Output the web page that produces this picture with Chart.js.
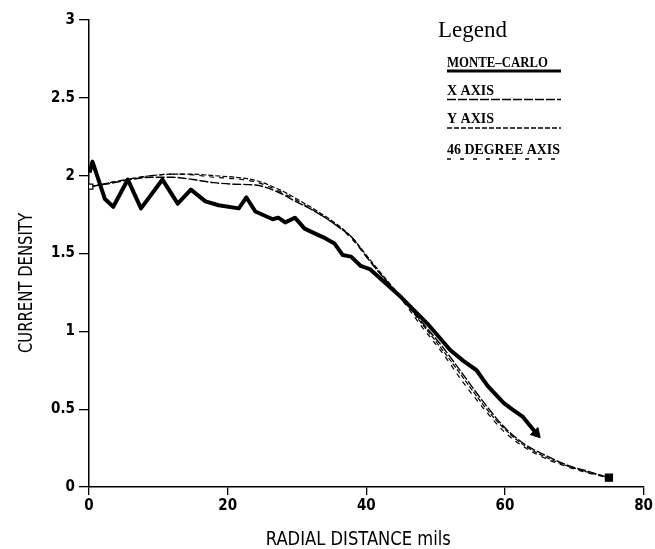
<!DOCTYPE html>
<html>
<head>
<meta charset="utf-8">
<script src="https://cdn.jsdelivr.net/npm/chart.js@4"></script>
<style>
html,body{margin:0;padding:0;background:#fff;}
canvas{display:block;}
</style>
</head>
<body>
<canvas id="c" width="655" height="549"></canvas>
<script>
// ---- data ----
const xTicks = [0, 20, 40, 60, 80];
const yTicks = [0, 0.5, 1, 1.5, 2, 2.5, 3];
const yTickLabels = ["0", "0.5", "1", "1.5", "2", "2.5", "3"];

const seriesNames = ["MONTE\u2013CARLO", "X AXIS", "Y AXIS", "46 DEGREE AXIS"];

const mcX = [0.1, 0.5, 2.3, 3.5, 5.6, 7.5, 10.6, 12.8, 14.7, 16.8, 18.7, 21.6, 22.7, 24.0, 26.5, 27.3, 28.3, 29.7, 31.1, 33.0, 34.0, 35.4, 36.6, 37.8, 39.2, 40.5, 42.5, 45.0, 48.8, 52.1, 54.0, 55.9, 57.5, 59.8, 61.0, 62.6, 64.5];
const mcY = [2.02, 2.09, 1.85, 1.80, 1.975, 1.79, 1.975, 1.82, 1.91, 1.835, 1.81, 1.79, 1.86, 1.77, 1.72, 1.73, 1.70, 1.73, 1.66, 1.62, 1.60, 1.565, 1.49, 1.48, 1.42, 1.40, 1.32, 1.22, 1.05, 0.88, 0.81, 0.75, 0.65, 0.54, 0.50, 0.45, 0.345];

const smoothX = [0.2, 3, 6, 9, 12, 15, 18, 21, 24, 27, 30, 33, 36, 38, 40, 42, 45, 48, 51, 54, 57, 60, 63, 66, 69, 72, 75];
const xAxisY = [1.93, 1.95, 1.975, 1.99, 1.99, 1.975, 1.955, 1.945, 1.94, 1.90, 1.83, 1.76, 1.67, 1.60, 1.48, 1.37, 1.22, 1.06, 0.90, 0.72, 0.54, 0.38, 0.27, 0.20, 0.14, 0.10, 0.06];
const yAxisY = [1.93, 1.955, 1.98, 2.0, 2.01, 2.01, 2.0, 1.99, 1.97, 1.92, 1.85, 1.77, 1.68, 1.60, 1.49, 1.38, 1.22, 1.05, 0.88, 0.70, 0.52, 0.37, 0.26, 0.19, 0.135, 0.095, 0.06];
const degY = [1.93, 1.955, 1.98, 2.0, 2.01, 2.005, 1.99, 1.98, 1.96, 1.91, 1.84, 1.76, 1.67, 1.59, 1.48, 1.37, 1.21, 1.03, 0.86, 0.67, 0.50, 0.35, 0.25, 0.18, 0.13, 0.09, 0.06];

const xTitle = "RADIAL DISTANCE mils";
const yTitle = "CURRENT DENSITY";
const legendTitle = "Legend";

// ---- build ----
const pts = (xs, ys) => xs.map((x, i) => ({x: x, y: ys[i]}));
const narrow = "'Liberation Sans Narrow', 'DejaVu Sans Condensed', 'Liberation Sans', sans-serif";
const serif = "'Liberation Serif', 'DejaVu Serif', serif";

const dashes = [[], [9, 2], [5, 2], [5, 5]];
const widths = [4, 1.4, 1.2, 1.2];

const datasets = [
  {
    label: seriesNames[0],
    data: pts(mcX, mcY),
    borderColor: '#000', backgroundColor: '#000',
    borderWidth: widths[0], borderJoinStyle: 'round',
    tension: 0,
    pointRadius: ctx => ctx.dataIndex === mcX.length - 1 ? 6 : 0,
    pointStyle: 'triangle',
    pointRotation: 138,
    pointBorderWidth: 1
  },
  {
    label: seriesNames[1],
    data: pts(smoothX, xAxisY),
    borderColor: '#000', backgroundColor: '#000',
    borderWidth: widths[1], borderDash: dashes[1],
    cubicInterpolationMode: 'monotone',
    pointRadius: ctx => ctx.dataIndex === smoothX.length - 1 ? 5 : (ctx.dataIndex === 0 ? 3.5 : 0),
    pointStyle: 'rect',
    pointBackgroundColor: ctx => ctx.dataIndex === 0 ? '#fff' : '#000',
    pointBorderWidth: 1.2
  },
  {
    label: seriesNames[2],
    data: pts(smoothX, yAxisY),
    borderColor: '#000',
    borderWidth: widths[2], borderDash: dashes[2],
    cubicInterpolationMode: 'monotone',
    pointRadius: 0
  },
  {
    label: seriesNames[3],
    data: pts(smoothX, degY),
    borderColor: '#000',
    borderWidth: widths[3], borderDash: dashes[3],
    cubicInterpolationMode: 'monotone',
    pointRadius: 0
  }
];

const decor = {
  id: 'decor',
  afterDraw(chart) {
    const c = chart.ctx;
    const area = chart.chartArea;
    c.save();
    c.fillStyle = '#000';
    c.strokeStyle = '#000';
    // axis titles
    c.font = "19px " + narrow;
    c.textAlign = 'center';
    c.textBaseline = 'alphabetic';
    c.fillText(xTitle, (area.left + area.right) / 2 - 8, 545, 185);
    c.save();
    c.translate(32, 283);
    c.rotate(-Math.PI / 2);
    c.fillText(yTitle, 0, 0, 140);
    c.restore();

    // legend
    c.textAlign = 'left';
    c.font = "23px " + serif;
    c.fillText(legendTitle, 438, 37, 72);
    const baselines = [67, 95, 123, 154];
    const lineYs = [71, 99.5, 128, 159];
    const textW = [101, 48, 48, 113];
    c.font = "bold 14px " + serif;
    for (let i = 0; i < seriesNames.length; i++) {
      c.fillText(seriesNames[i], 447, baselines[i], textW[i]);
      c.beginPath();
      c.lineWidth = i === 0 ? 3 : 1.3;
      c.setLineDash(i === 3 ? [4, 9] : dashes[i]);
      c.moveTo(447, lineYs[i]);
      c.lineTo(561, lineYs[i]);
      c.stroke();
    }
    c.restore();
  }
};

new Chart(document.getElementById('c'), {
  type: 'scatter',
  data: { datasets: datasets.map(d => Object.assign({showLine: true, fill: false}, d)) },
  options: {
    responsive: false,
    animation: false,
    layout: { padding: { top: 20, right: 7, left: 0, bottom: 0 } },
    plugins: { legend: { display: false }, tooltip: { enabled: false } },
    scales: {
      x: {
        type: 'linear', min: xTicks[0], max: xTicks[xTicks.length - 1],
        afterBuildTicks: s => { s.ticks = xTicks.map(v => ({value: v})); },
        afterFit: s => { s.height = 62; },
        ticks: { color: '#000', font: { family: narrow, size: 15, weight: 'bold' }, padding: 2, maxRotation: 0 },
        grid: { drawOnChartArea: false, drawTicks: true, tickLength: 8, color: '#000', lineWidth: 1.3 },
        border: { display: true, color: '#000', width: 1.5 }
      },
      y: {
        type: 'linear', min: yTicks[0], max: yTicks[yTicks.length - 1],
        afterBuildTicks: s => { s.ticks = yTicks.map(v => ({value: v})); },
        afterFit: s => { s.width = 89; },
        ticks: {
          color: '#000', font: { family: narrow, size: 15, weight: 'bold' }, padding: 4,
          callback: v => yTickLabels[yTicks.indexOf(v)]
        },
        grid: { drawOnChartArea: false, drawTicks: true, tickLength: 10, color: '#000', lineWidth: 1.3 },
        border: { display: true, color: '#000', width: 1.5 }
      }
    }
  },
  plugins: [decor]
});
</script>
</body>
</html>
